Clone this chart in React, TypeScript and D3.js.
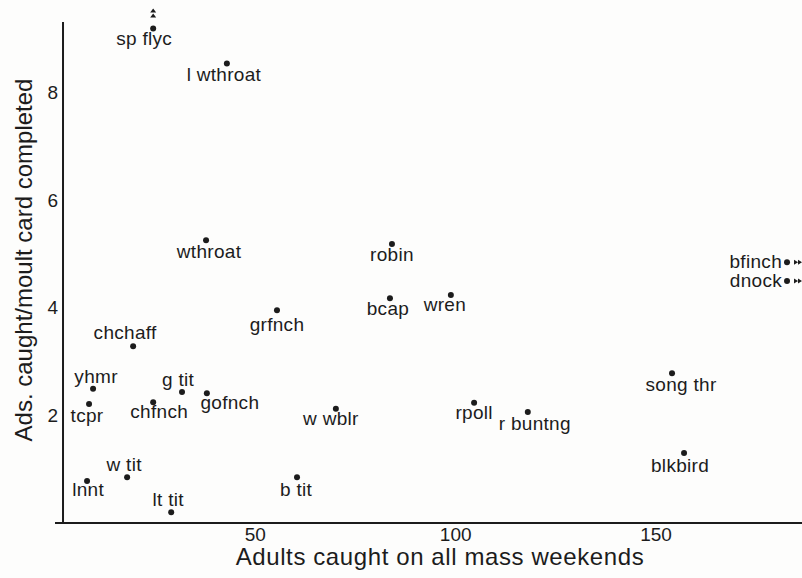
import React from 'react'
import {scaleLinear} from 'd3'

// adults caught on mass weekends vs adults caught per completed moult card
const species = ['sp flyc', 'l wthroat', 'wthroat', 'grfnch', 'chchaff', 'yhmr', 'tcpr', 'chfnch', 'g tit', 'gofnch',
    'w tit', 'lnnt', 'lt tit', 'b tit', 'robin', 'bcap', 'wren', 'w wblr', 'rpoll', 'r buntng', 'song thr', 'blkbird',
    'bfinch', 'dnock']
const adultsCaught = [24.5, 42.9, 37.7, 55.4, 19.5, 9.5, 8.5, 24.5, 31.7, 37.9,
    18, 8, 29, 60.4, 84.1, 83.6, 98.8, 70.1, 104.6, 118, 154, 157,
    182.7, 182.7]
const adsPerCard = [9.18, 8.53, 5.25, 3.95, 3.28, 2.49, 2.21, 2.24, 2.43, 2.41,
    0.85, 0.78, 0.2, 0.85, 5.18, 4.17, 4.23, 2.12, 2.23, 2.06, 2.78, 1.3,
    4.84, 4.49]
const offTop = ['sp flyc']
const offRight = ['bfinch', 'dnock']

const xTicks = [50, 100, 150]
const yTicks = [2, 4, 6, 8]

// where each name sits relative to its dot
const labelPos: Record<string, {dx: number, dy: number, anchor?: string}> = {
    'sp flyc': {dx: -9, dy: 17},
    'l wthroat': {dx: -3, dy: 18},
    'wthroat': {dx: 3, dy: 18},
    'grfnch': {dx: 0, dy: 21},
    'chchaff': {dx: -8, dy: -7},
    'yhmr': {dx: 3, dy: -6},
    'tcpr': {dx: -2, dy: 18},
    'chfnch': {dx: 6, dy: 16},
    'g tit': {dx: -4, dy: -6},
    'gofnch': {dx: 23, dy: 16},
    'w tit': {dx: -3, dy: -6},
    'lnnt': {dx: 1, dy: 15},
    'lt tit': {dx: -3, dy: -6},
    'b tit': {dx: -1, dy: 19},
    'robin': {dx: 0, dy: 17},
    'bcap': {dx: -2, dy: 17},
    'wren': {dx: -6, dy: 16},
    'w wblr': {dx: -5, dy: 16},
    'rpoll': {dx: 0, dy: 16},
    'r buntng': {dx: 7, dy: 18},
    'song thr': {dx: 9, dy: 18},
    'blkbird': {dx: -4, dy: 19},
    'bfinch': {dx: -5, dy: 6, anchor: 'end'},
    'dnock': {dx: -5, dy: 6, anchor: 'end'},
}

const W = 802
const H = 578
const ink = '#1c1c1c'
const font = '"Liberation Sans", Arial, sans-serif'

export default function App() {
    const x = scaleLinear().domain([0, 150]).range([55, 656])
    const y = scaleLinear().domain([0, 8]).range([523, 92])

    const axisX0 = 0, axisX1 = x.invert(W)
    const yAxisAt = 2, yAxisTop = 9.3

    const points = species.map((s, i) => ({name: s, cx: x(adultsCaught[i]), cy: y(adsPerCard[i])}))

    return (
        <svg width={W} height={H} style={{position: 'absolute', left: 0, top: 0, background: '#fff'}}
             fontFamily={font} fill={ink}>
            <rect width={W} height={H} fill="#fdfdfc"/>

            {/* axes */}
            <line x1={x(yAxisAt)} x2={x(yAxisAt)} y1={y(yAxisTop)} y2={y(0)} stroke={ink} strokeWidth={2}/>
            <line x1={x(axisX0)} x2={x(axisX1)} y1={y(0)} y2={y(0)} stroke={ink} strokeWidth={2}/>

            {yTicks.map(t => (
                <text key={t} x={x(yAxisAt) - 5} y={y(t)} dy="0.36em" textAnchor="end" fontSize={19}>{t}</text>
            ))}
            {xTicks.map(t => (
                <text key={t} x={x(t)} y={y(0) + 18} textAnchor="middle" fontSize={19}>{t}</text>
            ))}

            <text x={440} y={565} textAnchor="middle" fontSize={24} letterSpacing={0.6}>
                Adults caught on all mass weekends
            </text>
            <text transform={`translate(32,260) rotate(-90)`} textAnchor="middle" fontSize={24}>
                Ads. caught/moult card completed
            </text>

            {/* points */}
            {points.map(p => {
                const lp = labelPos[p.name]
                return (
                    <g key={p.name}>
                        <circle cx={p.cx} cy={p.cy} r={3} fill={ink}/>
                        <text x={p.cx + lp.dx} y={p.cy + lp.dy} textAnchor={lp.anchor || 'middle'}
                              fontSize={19} letterSpacing={0.3}>{p.name}</text>
                    </g>
                )
            })}

            {/* off-scale markers */}
            {points.filter(p => offTop.includes(p.name)).map(p => (
                <g key={'up' + p.name} transform={`translate(${p.cx},${p.cy - 13})`}>
                    <path d="M-3,-3 L0,-7 L3,-3 Z M-3,2 L0,-2 L3,2 Z" fill={ink}/>
                </g>
            ))}
            {points.filter(p => offRight.includes(p.name)).map(p => (
                <g key={'rt' + p.name} transform={`translate(${p.cx + 11},${p.cy})`}>
                    <path d="M-4,-2.5 L0,0 L-4,2.5 Z M0,-2.5 L4,0 L0,2.5 Z" fill={ink}/>
                </g>
            ))}
        </svg>
    )
}
